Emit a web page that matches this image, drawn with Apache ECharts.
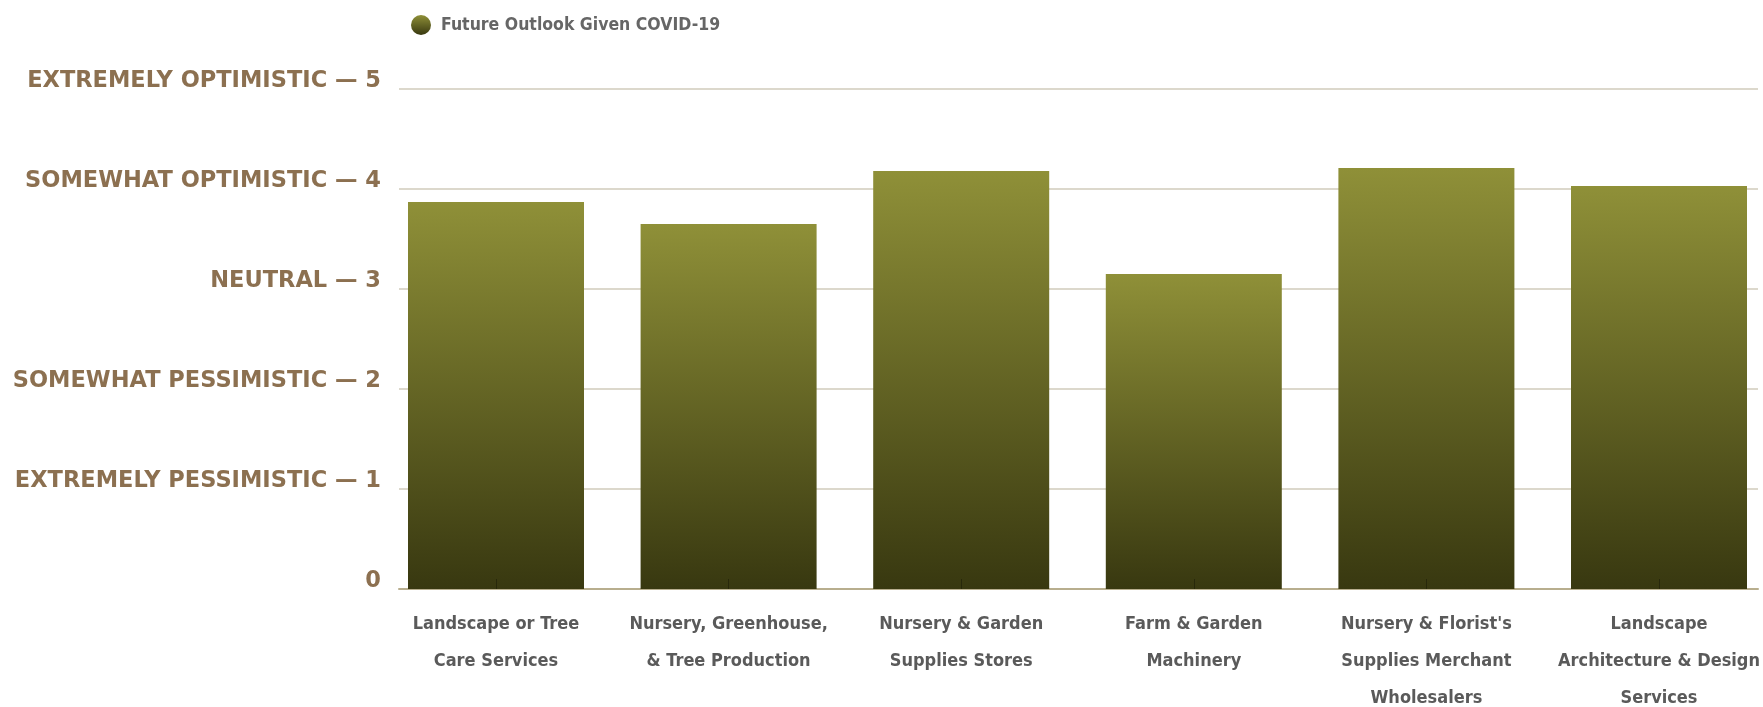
<!DOCTYPE html>
<html>
<head>
<meta charset="utf-8">
<script src="https://cdn.jsdelivr.net/npm/echarts@6/dist/echarts.min.js"></script>
<style>
  html, body { margin: 0; padding: 0; background: #ffffff; }
  #chart { width: 1763px; height: 707px; }
</style>
</head>
<body>
<div id="chart"></div>
<script>
// ---- data ----
const categories = [
  'Landscape or Tree\nCare Services',
  'Nursery, Greenhouse,\n& Tree Production',
  'Nursery & Garden\nSupplies Stores',
  'Farm & Garden\nMachinery',
  "Nursery & Florist's\nSupplies Merchant\nWholesalers",
  'Landscape\nArchitecture & Design\nServices'
];
const seriesName = 'Future Outlook Given COVID-19';
const outlookValues = [3.87, 3.65, 4.18, 3.15, 4.21, 4.03];
const yTickLabels = [
  '0',
  'EXTREMELY PESSIMISTIC — 1',
  'SOMEWHAT PESSIMISTIC — 2',
  'NEUTRAL — 3',
  'SOMEWHAT OPTIMISTIC — 4',
  'EXTREMELY OPTIMISTIC — 5'
];

const condensed = 'Liberation Sans Narrow, DejaVu Sans Condensed, sans-serif';

const barGradient = new echarts.graphic.LinearGradient(0, 0, 0, 1, [
  { offset: 0, color: '#8f9038' },
  { offset: 1, color: '#383810' }
]);

const chart = echarts.init(document.getElementById('chart'), null, { renderer: 'canvas' });

chart.setOption({
  animation: false,
  backgroundColor: '#ffffff',
  legend: {
    data: [seriesName],
    left: 406,
    top: 10,
    icon: 'circle',
    itemWidth: 20,
    itemHeight: 20,
    textStyle: {
      color: '#666666',
      fontFamily: condensed,
      fontWeight: 'bold',
      fontSize: 17.5,
      padding: [0, 0, 0, 5]
    }
  },
  grid: [
    { left: 399, right: 5, top: 89, bottom: 118, containLabel: false, outerBoundsMode: 'none' },
    { left: 496, right: 104, top: 89, bottom: 118, containLabel: false, outerBoundsMode: 'none' }
  ],
  xAxis: [
    {
      gridIndex: 0,
      type: 'value',
      min: 0,
      max: 1,
      axisLine: { show: true, lineStyle: { color: '#b8ae8e', width: 2 } },
      axisTick: { show: false },
      axisLabel: { show: false },
      splitLine: { show: false }
    },
    {
      gridIndex: 1,
      type: 'category',
      data: categories,
      boundaryGap: false,
      z: 5,
      axisLine: { show: false },
      axisTick: { show: true, inside: true, length: 10, lineStyle: { color: 'rgba(20,20,5,0.45)', width: 1 } },
      axisLabel: {
        interval: 0,
        margin: 17,
        color: '#5a5a5a',
        fontFamily: condensed,
        fontWeight: 'bold',
        fontSize: 18,
        lineHeight: 37,
        align: 'center',
        hideOverlap: false
      },
      splitLine: { show: false }
    }
  ],
  yAxis: [
    {
      gridIndex: 0,
      type: 'value',
      min: 0,
      max: 5,
      interval: 1,
      axisLine: { show: false },
      axisTick: { show: false },
      axisLabel: {
        margin: 18,
        color: '#8c7050',
        fontFamily: 'DejaVu Sans, sans-serif',
        fontWeight: 'bold',
        fontSize: 22.5,
        verticalAlign: 'bottom',
        lineHeight: 15,
        formatter: function (v) { return yTickLabels[v] || ''; }
      },
      splitLine: { show: true, lineStyle: { color: '#dcd8cc', width: 2 } }
    },
    {
      gridIndex: 1,
      type: 'value',
      min: 0,
      max: 5,
      interval: 1,
      show: false
    }
  ],
  series: [
    {
      name: seriesName,
      type: 'bar',
      xAxisIndex: 1,
      yAxisIndex: 1,
      barWidth: 176,
      clip: false,
      data: outlookValues,
      itemStyle: { color: barGradient }
    }
  ]
});
</script>
</body>
</html>
